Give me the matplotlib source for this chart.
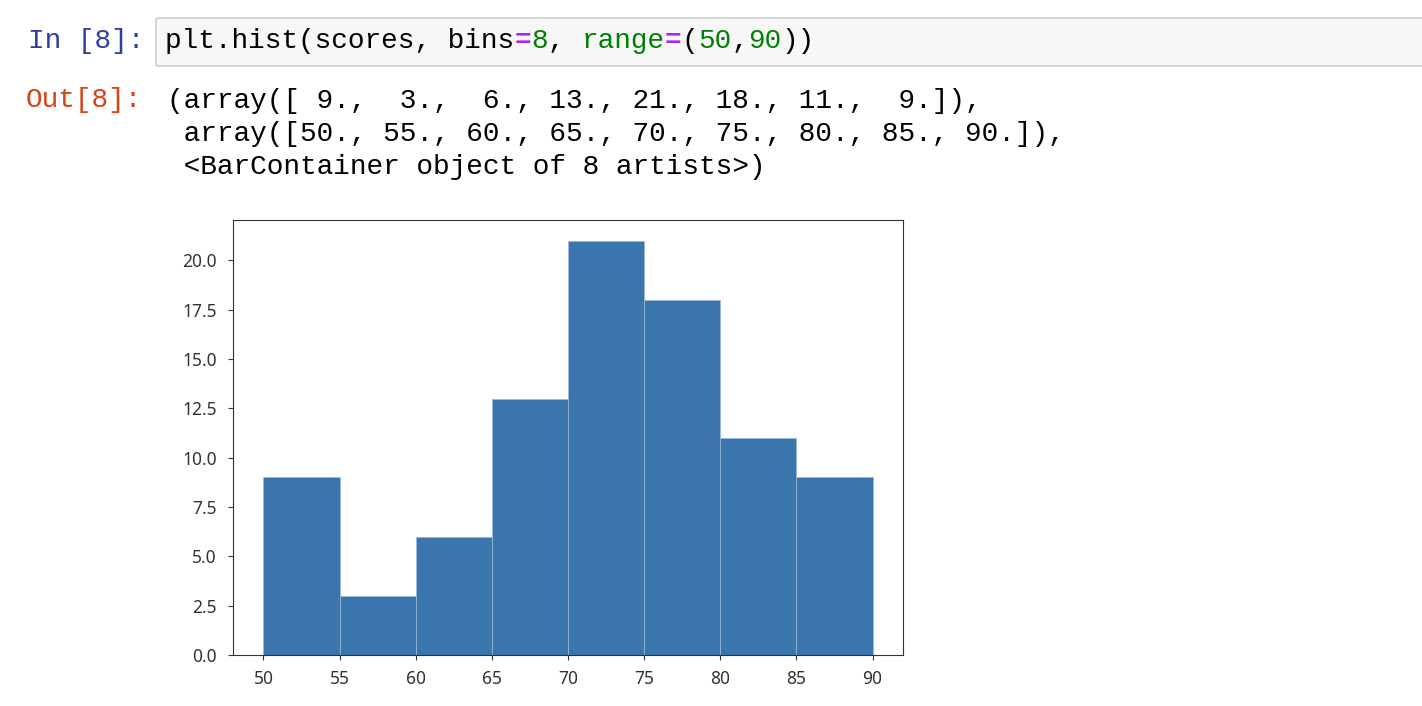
import matplotlib.pyplot as plt
from matplotlib.patches import FancyBboxPatch

# ----------------------------------------------------------------------------
# Data (read off the notebook output)
# ----------------------------------------------------------------------------
counts = [9, 3, 6, 13, 21, 18, 11, 9]
bin_edges = [50, 55, 60, 65, 70, 75, 80, 85, 90]

out_lines = [
    "(array([ 9.,  3.,  6., 13., 21., 18., 11.,  9.]),",
    " array([50., 55., 60., 65., 70., 75., 80., 85., 90.]),",
    " <BarContainer object of 8 artists>)",
]

# code cell pieces: (text, colour, bold)
code_parts = [
    ("plt.hist(scores, bins", "#000000", False),
    ("=", "#AA22FF", True),
    ("8", "#008000", False),
    (", ", "#000000", False),
    ("range", "#008000", False),
    ("=", "#AA22FF", True),
    ("(", "#000000", False),
    ("50", "#008000", False),
    (",", "#000000", False),
    ("90", "#008000", False),
    ("))", "#000000", False),
]

# ----------------------------------------------------------------------------
# Style
# ----------------------------------------------------------------------------
W, H, DPI = 1422, 706, 100
MONO = "Liberation Mono"
FS = 20
CHAR_W = 0.6 * FS * DPI / 72  # advance width of one monospace char in px

COLOR_IN = "#303F9F"
COLOR_OUT = "#D84315"
COLOR_BAR = "#3A75AE"

fig = plt.figure(figsize=(W / DPI, H / DPI), dpi=DPI)


def fx(px):
    return px / W


def fy(py):
    return 1 - py / H


# Code cell box
box = FancyBboxPatch((fx(156), fy(66)), fx(1290), 48 / H,
                     boxstyle="round,pad=0,rounding_size=0.002",
                     transform=fig.transFigure, facecolor="#F7F7F7",
                     edgecolor="#CFCFCF", linewidth=1.2)
fig.patches.append(box)

fig.text(fx(28), fy(41), "In [8]:", family=MONO, fontsize=FS,
         color=COLOR_IN, va="center")
x = 165
for txt, col, bold in code_parts:
    fig.text(fx(x), fy(41), txt, family=MONO, fontsize=FS, color=col,
             fontweight="bold" if bold else "normal", va="center")
    x += len(txt) * CHAR_W

fig.text(fx(26), fy(100), "Out[8]:", family=MONO, fontsize=FS,
         color=COLOR_OUT, va="center")
for i, line in enumerate(out_lines):
    fig.text(fx(167), fy(100.5 + 33.5 * i), line, family=MONO, fontsize=FS,
             color="#000000", va="center")

# ----------------------------------------------------------------------------
# Histogram
# ----------------------------------------------------------------------------
ax = fig.add_axes([fx(233), fy(655), fx(903 - 233), (655 - 220) / H])
widths = [b - a for a, b in zip(bin_edges[:-1], bin_edges[1:])]
ax.bar(bin_edges[:-1], counts, width=widths, align="edge",
       color=COLOR_BAR, edgecolor="#9DBBDA", linewidth=0.5)
ax.set_xticks(bin_edges)
for sp in ax.spines.values():
    sp.set_color("#333333")
ax.tick_params(labelsize=12.5, colors="#333333")
ax.tick_params(axis="y", pad=8)
ax.tick_params(axis="x", pad=7)
for lab in ax.get_xticklabels() + ax.get_yticklabels():
    lab.set_family("Noto Sans")

fig.savefig("out.png", dpi=DPI)
